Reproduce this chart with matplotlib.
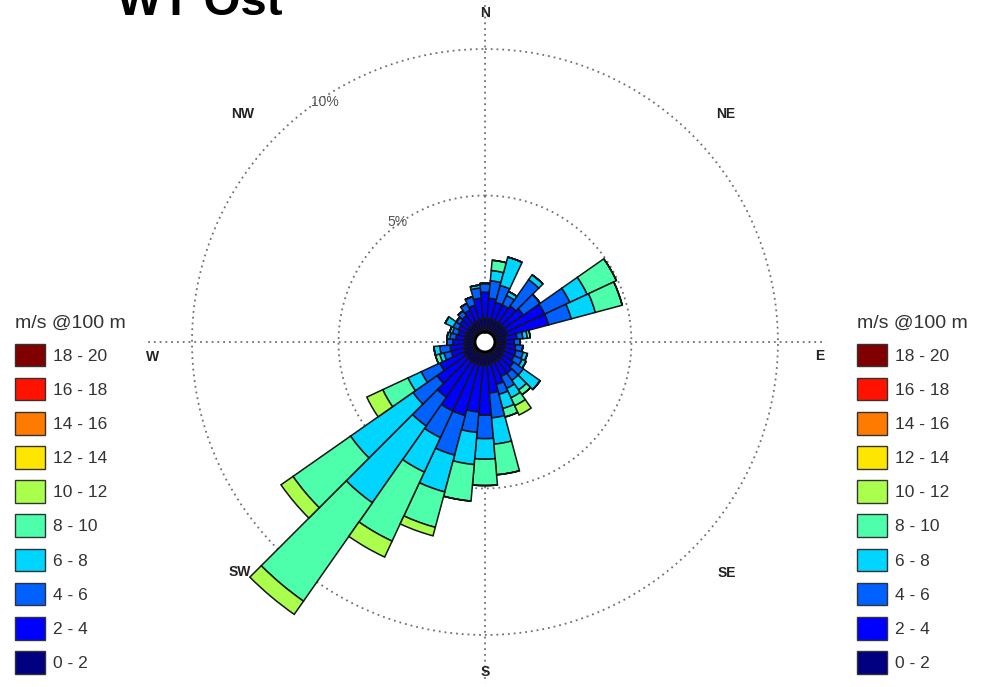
import numpy as np
import matplotlib.pyplot as plt
from matplotlib.patches import Patch

plt.rcParams['font.family'] = ['Liberation Sans', 'DejaVu Sans']

# --- wind rose data: frequency (%) per direction sector and speed bin ---
directions = np.arange(0, 360, 10)  # sector centres, deg clockwise from N

f_0_2 = [0.80, 0.80, 0.80, 0.80, 0.80, 0.80, 0.80, 0.80, 0.70, 0.70, 0.70, 0.70,
         0.70, 0.75, 0.75, 0.75, 0.75, 0.80, 0.80, 0.80, 0.80, 0.80, 0.80, 0.80,
         0.80, 0.75, 0.70, 0.70, 0.70, 0.70, 0.70, 0.70, 0.70, 0.75, 0.75, 0.80]
f_2_4 = [0.90, 0.70, 0.60, 0.60, 0.70, 0.80, 1.45, 1.45, 0.40, 0.30, 0.35, 0.40,
         0.40, 0.45, 0.55, 0.55, 0.75, 0.95, 1.70, 1.60, 1.80, 1.80, 1.50, 1.20,
         0.90, 0.45, 0.50, 0.40, 0.30, 0.25, 0.30, 0.35, 0.40, 0.45, 0.55, 0.70]
f_4_6 = [0.30, 0.60, 0.60, 0.35, 1.10, 0.70, 0.95, 0.80, 0.20, 0.20, 0.25, 0.25,
         0.30, 0.40, 0.30, 0.45, 0.35, 0.85, 0.80, 0.70, 1.40, 1.00, 1.20, 1.00,
         0.70, 0.25, 0.35, 0.20, 0.20, 0.20, 0.20, 0.15, 0.20, 0.25, 0.30, 0.35]
f_6_8 = [0.00, 0.35, 1.00, 0.15, 0.20, 0.00, 0.65, 0.85, 0.15, 0.00, 0.00, 0.15,
         0.15, 0.70, 0.40, 0.35, 0.50, 0.90, 0.70, 1.10, 1.30, 1.30, 3.20, 2.60,
         0.50, 0.15, 0.20, 0.00, 0.10, 0.10, 0.30, 0.00, 0.00, 0.00, 0.00, 0.10]
f_8_10 = [0.00, 0.35, 0.00, 0.00, 0.00, 0.00, 1.10, 0.95, 0.10, 0.00, 0.00, 0.00,
          0.00, 0.00, 0.20, 0.30, 0.30, 1.05, 0.90, 1.25, 1.25, 2.60, 4.10, 2.40,
          0.95, 0.15, 0.00, 0.00, 0.00, 0.00, 0.00, 0.00, 0.00, 0.00, 0.00, 0.00]
f_10_12 = [0.00, 0.00, 0.00, 0.00, 0.00, 0.00, 0.00, 0.00, 0.00, 0.00, 0.00, 0.00,
           0.00, 0.00, 0.00, 0.35, 0.00, 0.00, 0.00, 0.00, 0.30, 0.60, 0.55, 0.50,
           0.60, 0.00, 0.00, 0.00, 0.00, 0.00, 0.00, 0.00, 0.00, 0.00, 0.00, 0.00]

bins = [f_0_2, f_2_4, f_4_6, f_6_8, f_8_10, f_10_12]
bin_labels = ['0 - 2', '2 - 4', '4 - 6', '6 - 8', '8 - 10', '10 - 12',
              '12 - 14', '14 - 16', '16 - 18', '18 - 20']
colors = plt.cm.jet(np.linspace(0, 1, len(bin_labels)))

ring_levels = [5, 10]
compass = ['N', 'NE', 'E', 'SE', 'S', 'SW', 'W', 'NW']
compass_pos = [(0, 11.23), (46.6, 11.33), (92.4, 11.43), (133.7, 11.42),
               (180, 11.26), (226.8, 11.47), (267.4, 11.37), (313.3, 11.35)]
rmax = 11.7

fig = plt.figure(figsize=(9.86, 6.87), dpi=100)
ax = fig.add_axes([0.1442, 0.0032, 0.6953, 0.998], projection='polar')
ax.set_theta_zero_location('N')
ax.set_theta_direction(-1)
ax.set_ylim(0, rmax)
ax.set_axis_off()

theta = np.radians(directions)
width = np.radians(10)

# dotted rings and N-S / E-W axes
tt = np.linspace(0, 2 * np.pi, 400)
for lev in ring_levels:
    ax.plot(tt, np.full_like(tt, lev), color='#707070', lw=1.3,
            linestyle=(0, (1, 2.2)), zorder=1)
for ang in [0, 90, 180, 270]:
    ax.plot([np.radians(ang)] * 2, [0, 11.65], color='#707070', lw=1.3,
            linestyle=(0, (1, 2.2)), zorder=1, clip_on=False)

# stacked bars
bottom = np.zeros(len(directions))
for vals, col in zip(bins, colors):
    vals = np.array(vals)
    ax.bar(theta, vals, width=width, bottom=bottom, color=col,
           edgecolor='#151515', linewidth=1.1, zorder=2)
    bottom += vals

# central hole
ax.fill(tt, np.full_like(tt, 0.34), color='white', zorder=3)
ax.plot(tt, np.full_like(tt, 0.34), color='black', lw=2, zorder=4)

# ring labels
ax.text(np.radians(326.3), 9.83, '10%', fontsize=10, color='#555555',
        ha='center', va='center')
ax.text(np.radians(323.7), 5.07, '5%', fontsize=10, color='#555555',
        ha='center', va='center')

for name, (ang, r) in zip(compass, compass_pos):
    ax.text(np.radians(ang), r, name, fontsize=10, fontweight='bold',
            color='#222222', ha='center', va='center')

fig.text(117 / 986, 1 - 15 / 687, 'WT Ost', fontsize=34, fontweight='bold',
         va='baseline', ha='left')

# legends on both sides
handles = [Patch(facecolor=c, edgecolor='#333333', linewidth=1.0) for c in colors][::-1]
labels = bin_labels[::-1]
for x0 in [15, 857]:
    leg = fig.legend(handles, labels, loc='upper left',
                     bbox_to_anchor=(x0 / 986, 1 - 315 / 687),
                     frameon=False, fontsize=12.5, title='m/s @100 m',
                     title_fontsize=14, alignment='left',
                     handlelength=1.75, handleheight=1.62, labelspacing=0.67,
                     handletextpad=0.45, borderpad=0, borderaxespad=0)
    for t in leg.get_texts():
        t.set_color('#333333')
    leg.get_title().set_color('#333333')

fig.savefig('out.png', dpi=100)
